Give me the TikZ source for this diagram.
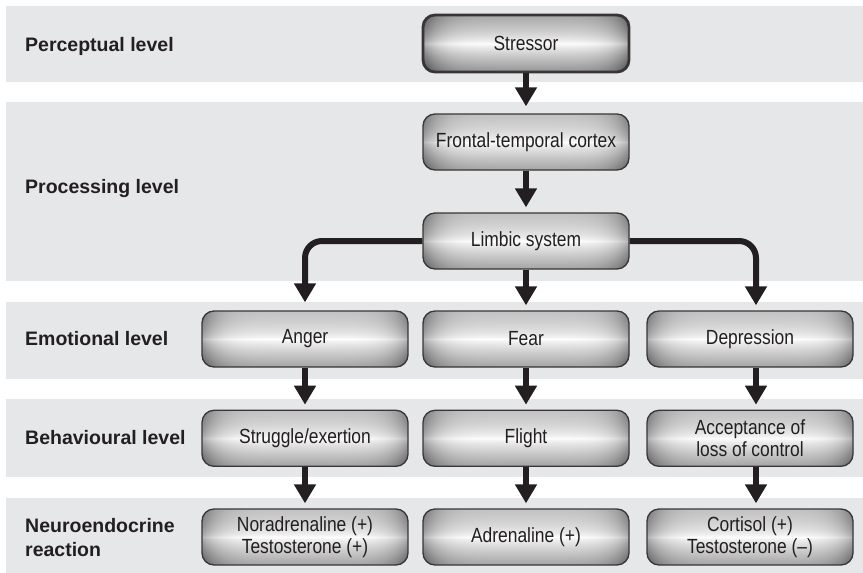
\documentclass[tikz,border=0pt]{standalone}
\usepackage{fontspec}
\setmainfont{Liberation Sans}
\newfontfamily\boxfont[FakeStretch=0.85,Ligatures=TeX]{Liberation Sans}
\usetikzlibrary{arrows.meta}
\definecolor{band}{HTML}{E6E7E8}
\definecolor{ink}{HTML}{231F20}
\pgfdeclarefunctionalshading{glossy}{\pgfpointorigin}{\pgfpoint{100bp}{100bp}}{}{50 sub 25 div dup abs 0.7 exp exch 0.06 mul 0.30 exch sub mul exch 50 sub 25 div dup mul dup dup mul mul 0.30 mul add 1 exch sub dup dup}
\pgfdeclarefunctionalshading{glossydark}{\pgfpointorigin}{\pgfpoint{100bp}{100bp}}{}{50 sub 25 div dup abs 0.75 exp exch 0.04 mul 0.38 exch sub mul exch 50 sub 25 div dup mul dup dup mul mul 0.32 mul add 1 exch sub dup dup}
\tikzset{
  levelbox/.style={draw=ink!90, line width=1.3pt, rounded corners=12pt,
    minimum width=206pt, minimum height=56pt, inner sep=0pt, shading=glossy,
    text=ink, align=center, font={\boxfont\fontsize{20.5pt}{21.5pt}\selectfont}},
  stressbox/.style={levelbox, line width=2.8pt, shading=glossydark, minimum height=57pt},
  lvl/.style={anchor=west, inner sep=0pt, text=ink, text height=14.4pt, text depth=0pt,
    font={\bfseries\fontsize{19.5pt}{24pt}\selectfont}},
  lvltwo/.style={anchor=west, inner sep=0pt, text=ink, align=left,
    font={\bfseries\fontsize{19.5pt}{24pt}\selectfont}},
  flow/.style={draw=ink, line width=6pt, -{Triangle[width=21pt,length=19pt]}},
  bandfill/.style={fill=band, draw=none}
}
\begin{document}
\begin{tikzpicture}[x=1pt,y=-1pt]
\useasboundingbox (0,0) rectangle (863,573);
% bands
\fill[bandfill] (5.5,5.5) rectangle (863,82);
\fill[bandfill] (5.5,102) rectangle (863,281);
\fill[bandfill] (5.5,301.5) rectangle (863,378.5);
\fill[bandfill] (5.5,399) rectangle (863,476.5);
\fill[bandfill] (5.5,498) rectangle (863,573);
% level labels
\node[lvl] (l1) at (25,44) {Perceptual level};
\node[lvl] (l2) at (25,186) {Processing level};
\node[lvl] (l3) at (25,338) {Emotional level};
\node[lvl] (l4) at (25,437) {Behavioural level};
\node[lvltwo] (l5) at (25,538) {Neuroendocrine\\reaction};
% boxes
\node[stressbox] (stressor) at (526,43.5) {Stressor};
\node[levelbox] (frontal) at (526,142) {Frontal-temporal cortex};
\node[levelbox] (limbic) at (526,241) {Limbic system};
\node[levelbox] (anger) at (305,339) {Anger};
\node[levelbox] (fear) at (526,339) {Fear};
\node[levelbox] (dep) at (750,339) {Depression};
\node[levelbox] (strug) at (305,438.3) {Struggle/exertion};
\node[levelbox] (flight) at (526,438.3) {Flight};
\node[levelbox] (acc) at (750,438.3) {Acceptance of\\loss of control};
\node[levelbox] (nor) at (305,537) {Noradrenaline (+)\\Testosterone (+)};
\node[levelbox] (adr) at (526,537) {Adrenaline (+)};
\node[levelbox] (cort) at (750,537) {Cortisol (+)\\Testosterone (\textendash)};
% column 3 arrow points
\path (dep.north) ++(6,-5) coordinate (dep-in);
\path (dep.south) ++(6,0) coordinate (dep-out);
\path (acc.north) ++(6,-5) coordinate (acc-in);
\path (acc.south) ++(6,0) coordinate (acc-out);
\path (cort.north) ++(6,-5) coordinate (cort-in);
% connectors
\draw[flow] (stressor.south) -- ([yshift=7pt]frontal.north);
\draw[flow] (frontal.south) -- ([yshift=5pt]limbic.north);
\draw[flow, rounded corners=17pt] (limbic.west) -| ([yshift=8pt]anger.north);
\draw[flow] (limbic.south) -- ([yshift=5pt]fear.north);
\draw[flow, rounded corners=17pt] (limbic.east) -| (dep-in);
\draw[flow] (anger.south) -- ([yshift=5pt]strug.north);
\draw[flow] (fear.south) -- ([yshift=5pt]flight.north);
\draw[flow] (dep-out) -- (acc-in);
\draw[flow] (strug.south) -- ([yshift=5pt]nor.north);
\draw[flow] (flight.south) -- ([yshift=5pt]adr.north);
\draw[flow] (acc-out) -- (cort-in);
\end{tikzpicture}
\end{document}
